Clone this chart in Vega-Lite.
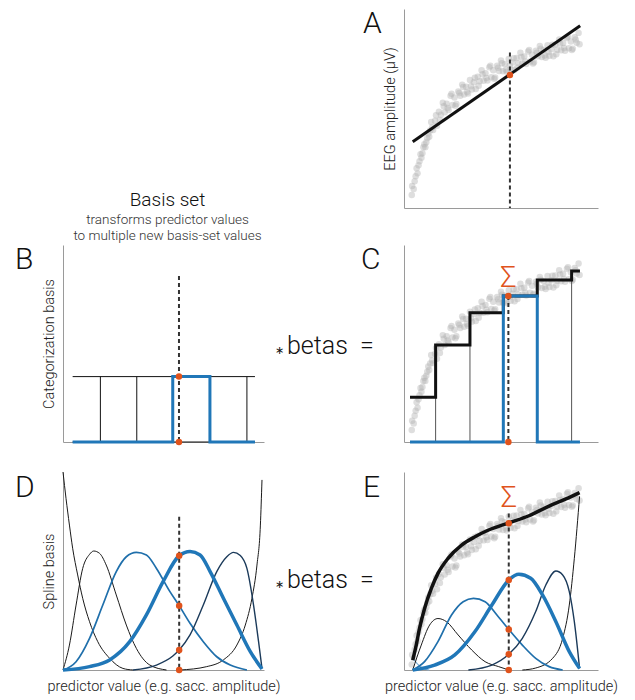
{
"$schema": "https://vega.github.io/schema/vega-lite/v6.json",
"padding": {"left": 15, "top": 9, "right": 5, "bottom": 2},
"columns": 3,
"spacing": {"row": 0, "column": 0},
"bounds": "flush",
"align": "each",
"config": {
  "view": {"stroke": null},
  "font": "Roboto",
  "axis": {"domainColor": "#9a9a9a", "domainWidth": 1, "ticks": false, "labels": false, "grid": false, "titleFont": "Roboto", "titleFontSize": 14.5, "titleFontWeight": 300, "titleColor": "#222"},
  "axisY": {"titlePadding": 7},
  "axisX": {"titlePadding": 9}
},
"datasets": {
  "scatter": [
    {"x":0.040,"y":0.065},{"x":0.050,"y":0.096},{"x":0.060,"y":0.159},{"x":0.070,"y":0.174},{"x":0.080,"y":0.235},{"x":0.090,"y":0.252},{"x":0.100,"y":0.305},{"x":0.110,"y":0.305},{"x":0.120,"y":0.350},{"x":0.130,"y":0.358},
    {"x":0.042,"y":0.110},{"x":0.055,"y":0.135},{"x":0.065,"y":0.200},{"x":0.075,"y":0.215},{"x":0.085,"y":0.270},{"x":0.095,"y":0.275},{"x":0.105,"y":0.320},{"x":0.115,"y":0.330},{"x":0.125,"y":0.375},{"x":0.135,"y":0.390},
    {"x":0.14,"y":0.432},{"x":0.15,"y":0.392},{"x":0.16,"y":0.438},{"x":0.17,"y":0.413},{"x":0.18,"y":0.484},{"x":0.19,"y":0.469},{"x":0.20,"y":0.529},{"x":0.21,"y":0.481},{"x":0.22,"y":0.524},{"x":0.23,"y":0.493},
    {"x":0.24,"y":0.564},{"x":0.25,"y":0.518},{"x":0.26,"y":0.555},{"x":0.27,"y":0.523},{"x":0.28,"y":0.586},{"x":0.29,"y":0.564},{"x":0.30,"y":0.620},{"x":0.31,"y":0.570},{"x":0.32,"y":0.609},{"x":0.33,"y":0.575},
    {"x":0.34,"y":0.643},{"x":0.35,"y":0.595},{"x":0.36,"y":0.632},{"x":0.37,"y":0.598},{"x":0.38,"y":0.660},{"x":0.39,"y":0.637},{"x":0.40,"y":0.692},{"x":0.41,"y":0.639},{"x":0.42,"y":0.677},{"x":0.43,"y":0.641},
    {"x":0.44,"y":0.707},{"x":0.45,"y":0.657},{"x":0.46,"y":0.692},{"x":0.47,"y":0.656},{"x":0.48,"y":0.715},{"x":0.49,"y":0.689},{"x":0.50,"y":0.741},{"x":0.51,"y":0.687},{"x":0.52,"y":0.723},{"x":0.53,"y":0.685},
    {"x":0.54,"y":0.749},{"x":0.55,"y":0.697},{"x":0.56,"y":0.731},{"x":0.57,"y":0.695},{"x":0.58,"y":0.754},{"x":0.59,"y":0.728},{"x":0.60,"y":0.780},{"x":0.61,"y":0.726},{"x":0.62,"y":0.761},{"x":0.63,"y":0.723},
    {"x":0.64,"y":0.787},{"x":0.65,"y":0.736},{"x":0.66,"y":0.770},{"x":0.67,"y":0.732},{"x":0.68,"y":0.790},{"x":0.69,"y":0.763},{"x":0.70,"y":0.814},{"x":0.71,"y":0.759},{"x":0.72,"y":0.794},{"x":0.73,"y":0.755},
    {"x":0.74,"y":0.818},{"x":0.75,"y":0.765},{"x":0.76,"y":0.798},{"x":0.77,"y":0.762},{"x":0.78,"y":0.821},{"x":0.79,"y":0.795},{"x":0.80,"y":0.847},{"x":0.81,"y":0.793},{"x":0.82,"y":0.829},{"x":0.83,"y":0.790},
    {"x":0.84,"y":0.854},{"x":0.85,"y":0.803},{"x":0.86,"y":0.837},{"x":0.87,"y":0.800},{"x":0.88,"y":0.858},{"x":0.89,"y":0.830},{"x":0.90,"y":0.880},{"x":0.905,"y":0.823},
    {"x":0.145,"y":0.405},{"x":0.165,"y":0.466},{"x":0.185,"y":0.442},{"x":0.205,"y":0.511},{"x":0.225,"y":0.503},{"x":0.245,"y":0.574},{"x":0.265,"y":0.514},{"x":0.285,"y":0.578},{"x":0.305,"y":0.608},{"x":0.325,"y":0.583},
    {"x":0.345,"y":0.612},{"x":0.365,"y":0.655},{"x":0.385,"y":0.614},{"x":0.405,"y":0.672},{"x":0.425,"y":0.653},{"x":0.445,"y":0.715},{"x":0.465,"y":0.649},{"x":0.485,"y":0.705},{"x":0.505,"y":0.727},{"x":0.525,"y":0.695},
    {"x":0.545,"y":0.716},{"x":0.565,"y":0.753},{"x":0.585,"y":0.706},{"x":0.605,"y":0.759},{"x":0.625,"y":0.736},{"x":0.645,"y":0.794},{"x":0.665,"y":0.726},{"x":0.685,"y":0.780},{"x":0.705,"y":0.800},{"x":0.725,"y":0.766},
    {"x":0.745,"y":0.784},{"x":0.765,"y":0.820},{"x":0.785,"y":0.773},{"x":0.805,"y":0.826},{"x":0.825,"y":0.804},{"x":0.845,"y":0.861},{"x":0.865,"y":0.794},{"x":0.885,"y":0.847}
  ],
  "A_line": [{"x":0.045,"y":0.333},{"x":0.908,"y":0.916}],
  "A_cut": [{"x":0.546,"top":0.782}],
  "A_dots": [{"x":0.546,"y":0.668}],
  "B_edges": [{"x":0.186,"h":0.332},{"x":0.367,"h":0.332},{"x":0.546,"h":0.332},{"x":0.731,"h":0.332},{"x":0.915,"h":0.332}],
  "B_hlines": [{"x":0.048,"x2":0.955,"y":0.332},{"x":0.048,"x2":0.955,"y":0}],
  "B_blue": [{"x":0.048,"y":0},{"x":0.546,"y":0.332},{"x":0.731,"y":0},{"x":0.955,"y":0}],
  "B_cut": [{"x":0.577,"top":0.843}],
  "B_dots": [{"x":0.577,"y":0.332},{"x":0.577,"y":0}],
  "C_edges": [{"x":0.163,"h":0.492},{"x":0.340,"h":0.656},{"x":0.512,"h":0.741},{"x":0.687,"h":0.822},{"x":0.864,"h":0.868}],
  "C_step": [{"x":0.031,"y":0.227},{"x":0.163,"y":0.492},{"x":0.340,"y":0.656},{"x":0.512,"y":0.741},{"x":0.687,"y":0.822},{"x":0.864,"y":0.868},{"x":0.907,"y":0.868}],
  "C_blue": [{"x":0.031,"y":0},{"x":0.512,"y":0.741},{"x":0.687,"y":0},{"x":0.907,"y":0}],
  "C_cut": [{"x":0.538,"top":0.741}],
  "C_dots": [{"x":0.538,"y":0.741},{"x":0.538,"y":0}],
  "D_curves": [
    {"c":"L","x":0.0,"y":1.0},{"c":"L","x":0.015,"y":0.867},{"c":"L","x":0.032,"y":0.732},{"c":"L","x":0.048,"y":0.615},{"c":"L","x":0.073,"y":0.48},{"c":"L","x":0.098,"y":0.362},{"c":"L","x":0.132,"y":0.244},{"c":"L","x":0.173,"y":0.143},{"c":"L","x":0.232,"y":0.059},{"c":"L","x":0.298,"y":0.008},{"c":"L","x":0.348,"y":0.0},
    {"c":"b1","x":0.0,"y":0.0},{"c":"b1","x":0.032,"y":0.126},{"c":"b1","x":0.065,"y":0.328},{"c":"b1","x":0.098,"y":0.513},{"c":"b1","x":0.132,"y":0.584},{"c":"b1","x":0.153,"y":0.601},{"c":"b1","x":0.182,"y":0.589},{"c":"b1","x":0.215,"y":0.53},{"c":"b1","x":0.265,"y":0.379},{"c":"b1","x":0.315,"y":0.227},{"c":"b1","x":0.365,"y":0.109},{"c":"b1","x":0.432,"y":0.025},{"c":"b1","x":0.515,"y":0.0},
    {"c":"b2","x":0.0,"y":0.0},{"c":"b2","x":0.065,"y":0.042},{"c":"b2","x":0.132,"y":0.16},{"c":"b2","x":0.198,"y":0.328},{"c":"b2","x":0.265,"y":0.497},{"c":"b2","x":0.315,"y":0.572},{"c":"b2","x":0.365,"y":0.594},{"c":"b2","x":0.415,"y":0.581},{"c":"b2","x":0.465,"y":0.513},{"c":"b2","x":0.532,"y":0.396},{"c":"b2","x":0.578,"y":0.325},{"c":"b2","x":0.632,"y":0.236},{"c":"b2","x":0.698,"y":0.143},{"c":"b2","x":0.765,"y":0.067},{"c":"b2","x":0.832,"y":0.025},{"c":"b2","x":0.915,"y":0.0},
    {"c":"b3","x":0.0,"y":0.0},{"c":"b3","x":0.132,"y":0.017},{"c":"b3","x":0.232,"y":0.051},{"c":"b3","x":0.332,"y":0.143},{"c":"b3","x":0.415,"y":0.278},{"c":"b3","x":0.498,"y":0.446},{"c":"b3","x":0.578,"y":0.577},{"c":"b3","x":0.632,"y":0.598},{"c":"b3","x":0.682,"y":0.581},{"c":"b3","x":0.732,"y":0.497},{"c":"b3","x":0.798,"y":0.362},{"c":"b3","x":0.865,"y":0.227},{"c":"b3","x":0.932,"y":0.093},{"c":"b3","x":0.99,"y":0.005},
    {"c":"b4","x":0.348,"y":0.0},{"c":"b4","x":0.465,"y":0.025},{"c":"b4","x":0.548,"y":0.072},{"c":"b4","x":0.578,"y":0.101},{"c":"b4","x":0.632,"y":0.177},{"c":"b4","x":0.698,"y":0.328},{"c":"b4","x":0.765,"y":0.497},{"c":"b4","x":0.815,"y":0.572},{"c":"b4","x":0.848,"y":0.594},{"c":"b4","x":0.882,"y":0.578},{"c":"b4","x":0.915,"y":0.513},{"c":"b4","x":0.948,"y":0.328},{"c":"b4","x":0.973,"y":0.143},{"c":"b4","x":0.99,"y":0.008},
    {"c":"R","x":0.582,"y":0.0},{"c":"R","x":0.715,"y":0.017},{"c":"R","x":0.798,"y":0.051},{"c":"R","x":0.865,"y":0.126},{"c":"R","x":0.907,"y":0.227},{"c":"R","x":0.94,"y":0.362},{"c":"R","x":0.965,"y":0.53},{"c":"R","x":0.982,"y":0.732},{"c":"R","x":0.99,"y":0.96}
  ],
  "D_cut": [{"x":0.578,"top":0.774}],
  "D_dots": [{"x":0.578,"y":0.577},{"x":0.578,"y":0.325},{"x":0.578,"y":0.101},{"x":0.578,"y":0.0}],
  "E_curves": [
    {"c":"fit","x":0.045,"y":0.05},{"c":"fit","x":0.063,"y":0.126},{"c":"fit","x":0.08,"y":0.21},{"c":"fit","x":0.106,"y":0.311},{"c":"fit","x":0.141,"y":0.412},{"c":"fit","x":0.175,"y":0.488},{"c":"fit","x":0.227,"y":0.564},{"c":"fit","x":0.297,"y":0.631},{"c":"fit","x":0.366,"y":0.673},{"c":"fit","x":0.436,"y":0.707},{"c":"fit","x":0.54,"y":0.743},{"c":"fit","x":0.644,"y":0.779},{"c":"fit","x":0.748,"y":0.828},{"c":"fit","x":0.835,"y":0.864},{"c":"fit","x":0.905,"y":0.896},
    {"c":"L","x":0.045,"y":0.06},{"c":"L","x":0.07,"y":0.03},{"c":"L","x":0.1,"y":0.008},{"c":"L","x":0.13,"y":0.0},
    {"c":"b1","x":0.045,"y":0.0},{"c":"b1","x":0.089,"y":0.126},{"c":"b1","x":0.132,"y":0.227},{"c":"b1","x":0.175,"y":0.26},{"c":"b1","x":0.219,"y":0.244},{"c":"b1","x":0.279,"y":0.177},{"c":"b1","x":0.349,"y":0.101},{"c":"b1","x":0.418,"y":0.042},{"c":"b1","x":0.488,"y":0.017},{"c":"b1","x":0.54,"y":0.0},
    {"c":"b2","x":0.045,"y":0.0},{"c":"b2","x":0.106,"y":0.042},{"c":"b2","x":0.175,"y":0.143},{"c":"b2","x":0.245,"y":0.278},{"c":"b2","x":0.305,"y":0.345},{"c":"b2","x":0.358,"y":0.362},{"c":"b2","x":0.418,"y":0.345},{"c":"b2","x":0.479,"y":0.278},{"c":"b2","x":0.54,"y":0.205},{"c":"b2","x":0.61,"y":0.126},{"c":"b2","x":0.679,"y":0.059},{"c":"b2","x":0.748,"y":0.017},{"c":"b2","x":0.818,"y":0.0},
    {"c":"b3","x":0.045,"y":0.0},{"c":"b3","x":0.158,"y":0.025},{"c":"b3","x":0.262,"y":0.076},{"c":"b3","x":0.366,"y":0.194},{"c":"b3","x":0.453,"y":0.328},{"c":"b3","x":0.54,"y":0.454},{"c":"b3","x":0.592,"y":0.483},{"c":"b3","x":0.653,"y":0.463},{"c":"b3","x":0.714,"y":0.379},{"c":"b3","x":0.783,"y":0.244},{"c":"b3","x":0.852,"y":0.093},{"c":"b3","x":0.905,"y":0.008},
    {"c":"b4","x":0.332,"y":0.0},{"c":"b4","x":0.453,"y":0.025},{"c":"b4","x":0.54,"y":0.079},{"c":"b4","x":0.61,"y":0.16},{"c":"b4","x":0.679,"y":0.295},{"c":"b4","x":0.731,"y":0.429},{"c":"b4","x":0.783,"y":0.5},{"c":"b4","x":0.818,"y":0.48},{"c":"b4","x":0.852,"y":0.396},{"c":"b4","x":0.878,"y":0.244},{"c":"b4","x":0.905,"y":0.008},
    {"c":"R","x":0.61,"y":0.0},{"c":"R","x":0.679,"y":0.01},{"c":"R","x":0.766,"y":0.059},{"c":"R","x":0.818,"y":0.16},{"c":"R","x":0.852,"y":0.328},{"c":"R","x":0.878,"y":0.564},{"c":"R","x":0.905,"y":0.877}
  ],
  "E_cut": [{"x":0.54,"top":0.791}],
  "E_dots": [{"x":0.54,"y":0.741},{"x":0.54,"y":0.454},{"x":0.54,"y":0.205},{"x":0.54,"y":0.079},{"x":0.54,"y":0.0}]
},
"concat": [
  {"width": 201, "height": 199, "data": {"values": [{}]}, "mark": {"type": "text", "text": ""}},
  {"width": 140, "height": 199, "data": {"values": [{}]}, "mark": {"type": "text", "text": ""}},
  {
    "width": 194, "height": 199,
    "layer": [
      {"data": {"name": "scatter"}, "mark": {"type": "circle", "size": 42, "color": "#b0b0b0", "opacity": 0.42},
       "encoding": {"x": {"field": "x", "type": "quantitative", "scale": {"domain": [0, 1], "nice": false, "zero": false}, "axis": {"title": null}},
                    "y": {"field": "y", "type": "quantitative", "scale": {"domain": [0, 1], "nice": false, "zero": false}, "axis": {"title": "EEG amplitude (μV)"}}}},
      {"data": {"name": "A_line"}, "mark": {"type": "line", "color": "#111111", "strokeWidth": 3},
       "encoding": {"x": {"field": "x", "type": "quantitative", "axis": {"title": null}}, "y": {"field": "y", "type": "quantitative", "axis": {"title": "EEG amplitude (μV)"}}}},
      {"data": {"name": "A_cut"}, "mark": {"type": "rule", "color": "#333333", "strokeWidth": 2, "strokeDash": [4, 3]},
       "encoding": {"x": {"field": "x", "type": "quantitative", "axis": {"title": null}}, "y": {"field": "top", "type": "quantitative", "axis": {"title": "EEG amplitude (μV)"}}, "y2": {"datum": 0}}},
      {"data": {"name": "A_dots"}, "mark": {"type": "circle", "size": 42, "color": "#e0531c", "opacity": 1},
       "encoding": {"x": {"field": "x", "type": "quantitative", "axis": {"title": null}}, "y": {"field": "y", "type": "quantitative", "axis": {"title": "EEG amplitude (μV)"}}}},
      {"data": {"values": [{}]}, "mark": {"type": "text", "text": "A", "fontSize": 30, "fontWeight": 300, "color": "#111111", "align": "left", "baseline": "top", "dx": -41},
       "encoding": {"x": {"datum": 0, "type": "quantitative", "axis": {"title": null}}, "y": {"datum": 1, "type": "quantitative", "axis": {"title": "EEG amplitude (μV)"}}}}
    ]
  },
  {"width": 201, "height": 37, "data": {"values": [{}]}, "mark": {"type": "text", "text": ""}},
  {"width": 140, "height": 37, "data": {"values": [{}]}, "mark": {"type": "text", "text": ""}},
  {"width": 194, "height": 37, "data": {"values": [{}]}, "mark": {"type": "text", "text": ""}},
  {
    "width": 201, "height": 197,
    "title": {"text": "Basis set", "subtitle": ["transforms predictor values", "to multiple new basis-set values"], "frame": "group", "anchor": "middle", "fontSize": 19, "fontWeight": 300, "color": "#111111", "subtitleFontSize": 13.5, "subtitleFontWeight": 300, "subtitleColor": "#333333", "subtitlePadding": 3, "subtitleLineHeight": 16, "offset": 3, "dx": 4},
    "layer": [
      {"data": {"name": "B_edges"}, "mark": {"type": "rule", "color": "#111111", "strokeWidth": 1},
       "encoding": {"x": {"field": "x", "type": "quantitative", "scale": {"domain": [0, 1], "nice": false, "zero": false}, "axis": {"title": null}},
                    "y": {"field": "h", "type": "quantitative", "scale": {"domain": [0, 1], "nice": false, "zero": false}, "axis": {"title": "Categorization basis"}}, "y2": {"datum": 0}}},
      {"data": {"name": "B_hlines"}, "mark": {"type": "rule", "color": "#111111", "strokeWidth": 1},
       "encoding": {"x": {"field": "x", "type": "quantitative", "axis": {"title": null}}, "x2": {"field": "x2"}, "y": {"field": "y", "type": "quantitative", "axis": {"title": "Categorization basis"}}}},
      {"data": {"name": "B_blue"}, "mark": {"type": "line", "color": "#2077b8", "strokeWidth": 3, "interpolate": "step-after"},
       "encoding": {"x": {"field": "x", "type": "quantitative", "axis": {"title": null}}, "y": {"field": "y", "type": "quantitative", "axis": {"title": "Categorization basis"}}}},
      {"data": {"name": "B_cut"}, "mark": {"type": "rule", "color": "#333333", "strokeWidth": 2, "strokeDash": [4, 3]},
       "encoding": {"x": {"field": "x", "type": "quantitative", "axis": {"title": null}}, "y": {"field": "top", "type": "quantitative", "axis": {"title": "Categorization basis"}}, "y2": {"datum": 0}}},
      {"data": {"name": "B_dots"}, "mark": {"type": "circle", "size": 42, "color": "#e0531c", "opacity": 1},
       "encoding": {"x": {"field": "x", "type": "quantitative", "axis": {"title": null}}, "y": {"field": "y", "type": "quantitative", "axis": {"title": "Categorization basis"}}}},
      {"data": {"values": [{}]}, "mark": {"type": "text", "text": "B", "fontSize": 30, "fontWeight": 300, "color": "#111111", "align": "left", "baseline": "top", "dx": -48},
       "encoding": {"x": {"datum": 0, "type": "quantitative", "axis": {"title": null}}, "y": {"datum": 1, "type": "quantitative", "axis": {"title": "Categorization basis"}}}}
    ]
  },
  {"width": 140, "height": 197, "data": {"values": [{}]},
   "layer": [
     {"mark": {"type": "text", "text": "∗", "fontSize": 11, "color": "#111111", "align": "center", "baseline": "alphabetic", "dx": -55, "dy": 10}},
     {"mark": {"type": "text", "text": "betas\u00a0\u00a0=", "fontSize": 25, "fontWeight": 300, "color": "#111111", "align": "left", "baseline": "alphabetic", "dx": -47, "dy": 10.5}}
   ]},
  {
    "width": 194, "height": 197,
    "layer": [
      {"data": {"name": "scatter"}, "mark": {"type": "circle", "size": 42, "color": "#b0b0b0", "opacity": 0.42},
       "encoding": {"x": {"field": "x", "type": "quantitative", "scale": {"domain": [0, 1], "nice": false, "zero": false}, "axis": {"title": null}},
                    "y": {"field": "y", "type": "quantitative", "scale": {"domain": [0.006, 0.97], "nice": false, "zero": false}, "axis": null}}},
      {"layer": [
        {"data": {"name": "C_edges"}, "mark": {"type": "rule", "color": "#555555", "strokeWidth": 1},
         "encoding": {"x": {"field": "x", "type": "quantitative", "axis": {"title": null}},
                      "y": {"field": "h", "type": "quantitative", "scale": {"domain": [0, 1], "nice": false, "zero": false}, "axis": {"title": null}}, "y2": {"datum": 0}}},
        {"data": {"name": "C_step"}, "mark": {"type": "line", "color": "#111111", "strokeWidth": 3, "interpolate": "step-after"},
         "encoding": {"x": {"field": "x", "type": "quantitative", "axis": {"title": null}}, "y": {"field": "y", "type": "quantitative", "axis": {"title": null}}}},
        {"data": {"name": "C_blue"}, "mark": {"type": "line", "color": "#2077b8", "strokeWidth": 3, "interpolate": "step-after"},
         "encoding": {"x": {"field": "x", "type": "quantitative", "axis": {"title": null}}, "y": {"field": "y", "type": "quantitative", "axis": {"title": null}}}},
        {"data": {"name": "C_cut"}, "mark": {"type": "rule", "color": "#333333", "strokeWidth": 2, "strokeDash": [4, 3]},
         "encoding": {"x": {"field": "x", "type": "quantitative", "axis": {"title": null}}, "y": {"field": "top", "type": "quantitative", "axis": {"title": null}}, "y2": {"datum": 0}}},
        {"data": {"name": "C_dots"}, "mark": {"type": "circle", "size": 42, "color": "#e0531c", "opacity": 1},
         "encoding": {"x": {"field": "x", "type": "quantitative", "axis": {"title": null}}, "y": {"field": "y", "type": "quantitative", "axis": {"title": null}}}},
        {"data": {"values": [{}]}, "mark": {"type": "text", "text": "Σ", "fontSize": 29, "fontWeight": 300, "color": "#e0531c", "align": "center", "baseline": "middle"},
         "encoding": {"x": {"datum": 0.538, "type": "quantitative", "axis": {"title": null}}, "y": {"datum": 0.835, "type": "quantitative", "axis": {"title": null}}}},
        {"data": {"values": [{}]}, "mark": {"type": "text", "text": "C", "fontSize": 30, "fontWeight": 300, "color": "#111111", "align": "left", "baseline": "top", "dx": -43},
         "encoding": {"x": {"datum": 0, "type": "quantitative", "axis": {"title": null}}, "y": {"datum": 1, "type": "quantitative", "axis": {"title": null}}}}
      ]}
    ],
    "resolve": {"scale": {"y": "independent"}, "axis": {"y": "independent"}}
  },
  {"width": 201, "height": 30, "data": {"values": [{}]}, "mark": {"type": "text", "text": ""}},
  {"width": 140, "height": 30, "data": {"values": [{}]}, "mark": {"type": "text", "text": ""}},
  {"width": 194, "height": 30, "data": {"values": [{}]}, "mark": {"type": "text", "text": ""}},
  {
    "width": 201, "height": 198,
    "layer": [
      {"data": {"name": "D_curves"}, "transform": [{"filter": {"field": "c", "oneOf": ["L", "b1", "R"]}}],
       "mark": {"type": "line", "color": "#1a1a1a", "strokeWidth": 1, "interpolate": "monotone"},
       "encoding": {"x": {"field": "x", "type": "quantitative", "scale": {"domain": [0, 1], "nice": false, "zero": false}, "axis": {"title": "predictor value (e.g. sacc. amplitude)"}},
                    "y": {"field": "y", "type": "quantitative", "scale": {"domain": [0, 1], "nice": false, "zero": false}, "axis": {"title": "Spline basis"}}, "detail": {"field": "c"}}},
      {"data": {"name": "D_curves"}, "transform": [{"filter": {"field": "c", "equal": "b2"}}],
       "mark": {"type": "line", "color": "#1f6fab", "strokeWidth": 1.7, "interpolate": "monotone"},
       "encoding": {"x": {"field": "x", "type": "quantitative", "axis": {"title": "predictor value (e.g. sacc. amplitude)"}}, "y": {"field": "y", "type": "quantitative", "axis": {"title": "Spline basis"}}}},
      {"data": {"name": "D_curves"}, "transform": [{"filter": {"field": "c", "equal": "b4"}}],
       "mark": {"type": "line", "color": "#1b3a5a", "strokeWidth": 1.4, "interpolate": "monotone"},
       "encoding": {"x": {"field": "x", "type": "quantitative", "axis": {"title": "predictor value (e.g. sacc. amplitude)"}}, "y": {"field": "y", "type": "quantitative", "axis": {"title": "Spline basis"}}}},
      {"data": {"name": "D_curves"}, "transform": [{"filter": {"field": "c", "equal": "b3"}}],
       "mark": {"type": "line", "color": "#2077b8", "strokeWidth": 3.5, "interpolate": "monotone"},
       "encoding": {"x": {"field": "x", "type": "quantitative", "axis": {"title": "predictor value (e.g. sacc. amplitude)"}}, "y": {"field": "y", "type": "quantitative", "axis": {"title": "Spline basis"}}}},
      {"data": {"name": "D_cut"}, "mark": {"type": "rule", "color": "#333333", "strokeWidth": 2, "strokeDash": [4, 3]},
       "encoding": {"x": {"field": "x", "type": "quantitative", "axis": {"title": "predictor value (e.g. sacc. amplitude)"}}, "y": {"field": "top", "type": "quantitative", "axis": {"title": "Spline basis"}}, "y2": {"datum": 0}}},
      {"data": {"name": "D_dots"}, "mark": {"type": "circle", "size": 42, "color": "#e0531c", "opacity": 1},
       "encoding": {"x": {"field": "x", "type": "quantitative", "axis": {"title": "predictor value (e.g. sacc. amplitude)"}}, "y": {"field": "y", "type": "quantitative", "axis": {"title": "Spline basis"}}}},
      {"data": {"values": [{}]}, "mark": {"type": "text", "text": "D", "fontSize": 30, "fontWeight": 300, "color": "#111111", "align": "left", "baseline": "top", "dx": -48, "dy": 1},
       "encoding": {"x": {"datum": 0, "type": "quantitative", "axis": {"title": "predictor value (e.g. sacc. amplitude)"}}, "y": {"datum": 1, "type": "quantitative", "axis": {"title": "Spline basis"}}}}
    ]
  },
  {"width": 140, "height": 198, "data": {"values": [{}]},
   "layer": [
     {"mark": {"type": "text", "text": "∗", "fontSize": 11, "color": "#111111", "align": "center", "baseline": "alphabetic", "dx": -55, "dy": 16.5}},
     {"mark": {"type": "text", "text": "betas\u00a0\u00a0=", "fontSize": 25, "fontWeight": 300, "color": "#111111", "align": "left", "baseline": "alphabetic", "dx": -47, "dy": 17}}
   ]},
  {
    "width": 194, "height": 198,
    "layer": [
      {"data": {"name": "scatter"}, "mark": {"type": "circle", "size": 42, "color": "#b0b0b0", "opacity": 0.42},
       "encoding": {"x": {"field": "x", "type": "quantitative", "scale": {"domain": [0, 1], "nice": false, "zero": false}, "axis": {"title": "predictor value (e.g. sacc. amplitude)"}},
                    "y": {"field": "y", "type": "quantitative", "scale": {"domain": [0.04, 0.955], "nice": false, "zero": false}, "axis": null}}},
      {"layer": [
        {"data": {"name": "E_curves"}, "transform": [{"filter": {"field": "c", "equal": "L"}}],
         "mark": {"type": "line", "color": "#7fb0d8", "strokeWidth": 1.2, "interpolate": "monotone"},
         "encoding": {"x": {"field": "x", "type": "quantitative", "axis": {"title": "predictor value (e.g. sacc. amplitude)"}},
                      "y": {"field": "y", "type": "quantitative", "scale": {"domain": [0, 1], "nice": false, "zero": false}, "axis": {"title": null}}}},
        {"data": {"name": "E_curves"}, "transform": [{"filter": {"field": "c", "oneOf": ["b1", "R"]}}],
         "mark": {"type": "line", "color": "#1a1a1a", "strokeWidth": 1, "interpolate": "monotone"},
         "encoding": {"x": {"field": "x", "type": "quantitative", "axis": {"title": "predictor value (e.g. sacc. amplitude)"}}, "y": {"field": "y", "type": "quantitative", "axis": {"title": null}}, "detail": {"field": "c"}}},
        {"data": {"name": "E_curves"}, "transform": [{"filter": {"field": "c", "equal": "b2"}}],
         "mark": {"type": "line", "color": "#1f6fab", "strokeWidth": 1.7, "interpolate": "monotone"},
         "encoding": {"x": {"field": "x", "type": "quantitative", "axis": {"title": "predictor value (e.g. sacc. amplitude)"}}, "y": {"field": "y", "type": "quantitative", "axis": {"title": null}}}},
        {"data": {"name": "E_curves"}, "transform": [{"filter": {"field": "c", "equal": "b4"}}],
         "mark": {"type": "line", "color": "#1b3a5a", "strokeWidth": 1.4, "interpolate": "monotone"},
         "encoding": {"x": {"field": "x", "type": "quantitative", "axis": {"title": "predictor value (e.g. sacc. amplitude)"}}, "y": {"field": "y", "type": "quantitative", "axis": {"title": null}}}},
        {"data": {"name": "E_curves"}, "transform": [{"filter": {"field": "c", "equal": "b3"}}],
         "mark": {"type": "line", "color": "#2077b8", "strokeWidth": 3.5, "interpolate": "monotone"},
         "encoding": {"x": {"field": "x", "type": "quantitative", "axis": {"title": "predictor value (e.g. sacc. amplitude)"}}, "y": {"field": "y", "type": "quantitative", "axis": {"title": null}}}},
        {"data": {"name": "E_curves"}, "transform": [{"filter": {"field": "c", "equal": "fit"}}],
         "mark": {"type": "line", "color": "#111111", "strokeWidth": 3.5, "interpolate": "monotone"},
         "encoding": {"x": {"field": "x", "type": "quantitative", "axis": {"title": "predictor value (e.g. sacc. amplitude)"}}, "y": {"field": "y", "type": "quantitative", "axis": {"title": null}}}},
        {"data": {"name": "E_cut"}, "mark": {"type": "rule", "color": "#333333", "strokeWidth": 2, "strokeDash": [4, 3]},
         "encoding": {"x": {"field": "x", "type": "quantitative", "axis": {"title": "predictor value (e.g. sacc. amplitude)"}}, "y": {"field": "top", "type": "quantitative", "axis": {"title": null}}, "y2": {"datum": 0}}},
        {"data": {"name": "E_dots"}, "mark": {"type": "circle", "size": 42, "color": "#e0531c", "opacity": 1},
         "encoding": {"x": {"field": "x", "type": "quantitative", "axis": {"title": "predictor value (e.g. sacc. amplitude)"}}, "y": {"field": "y", "type": "quantitative", "axis": {"title": null}}}},
        {"data": {"values": [{}]}, "mark": {"type": "text", "text": "Σ", "fontSize": 29, "fontWeight": 300, "color": "#e0531c", "align": "center", "baseline": "middle"},
         "encoding": {"x": {"datum": 0.54, "type": "quantitative", "axis": {"title": "predictor value (e.g. sacc. amplitude)"}}, "y": {"datum": 0.869, "type": "quantitative", "axis": {"title": null}}}},
        {"data": {"values": [{}]}, "mark": {"type": "text", "text": "E", "fontSize": 30, "fontWeight": 300, "color": "#111111", "align": "left", "baseline": "top", "dx": -41, "dy": 1},
         "encoding": {"x": {"datum": 0, "type": "quantitative", "axis": {"title": "predictor value (e.g. sacc. amplitude)"}}, "y": {"datum": 1, "type": "quantitative", "axis": {"title": null}}}}
      ]}
    ],
    "resolve": {"scale": {"y": "independent"}, "axis": {"y": "independent"}}
  }
]
}
